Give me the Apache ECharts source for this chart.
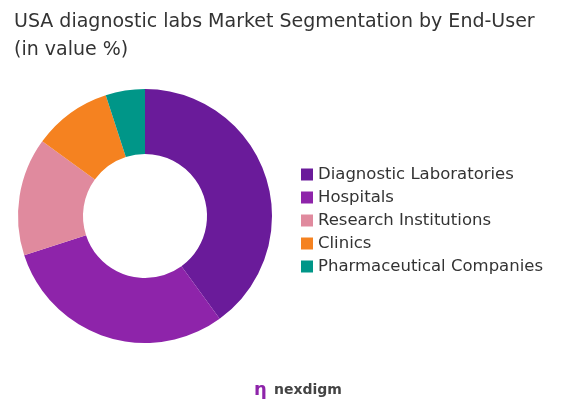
<!DOCTYPE html><html><head><meta charset="utf-8"><script src="https://cdn.jsdelivr.net/npm/echarts@6/dist/echarts.min.js"></script>
<style>html,body{margin:0;background:#fff}#c{width:572px;height:412px}</style></head><body><div id="c"></div><script>
const categories=["Diagnostic Laboratories","Hospitals","Research Institutions","Clinics","Pharmaceutical Companies"];
const values=[40,30,15,10,5];
const colors=["#6a1b9a","#8e24aa","#e08a9e","#f58220","#009688"];
const chart=echarts.init(document.getElementById('c'));
chart.setOption({
 title:{text:"USA diagnostic labs Market Segmentation by End-User\n(in value %)",left:9,top:3,textStyle:{fontFamily:"DejaVu Sans",fontSize:19,fontWeight:"normal",color:"#333",lineHeight:28}},
 legend:{orient:"vertical",left:296,top:161,itemWidth:12,itemHeight:12,itemGap:6,icon:"rect",textStyle:{fontFamily:"DejaVu Sans",fontSize:16.5,color:"#333"},data:categories},
 graphic:[{type:"text",left:274,top:383,style:{text:"nexdigm",fontFamily:"DejaVu Sans",fontSize:14,fontWeight:"bold",fill:"#444"}},
  {type:"text",left:254,top:381,style:{text:"ƞ",fontFamily:"DejaVu Sans",fontSize:18,fontWeight:"bold",fill:"#8e24aa"}}],
 series:[{type:"pie",center:[145,216],radius:[62,127],startAngle:90,label:{show:false},labelLine:{show:false},
  data:categories.map((n,i)=>({name:n,value:values[i],itemStyle:{color:colors[i]}}))}]
});
</script></body></html>
